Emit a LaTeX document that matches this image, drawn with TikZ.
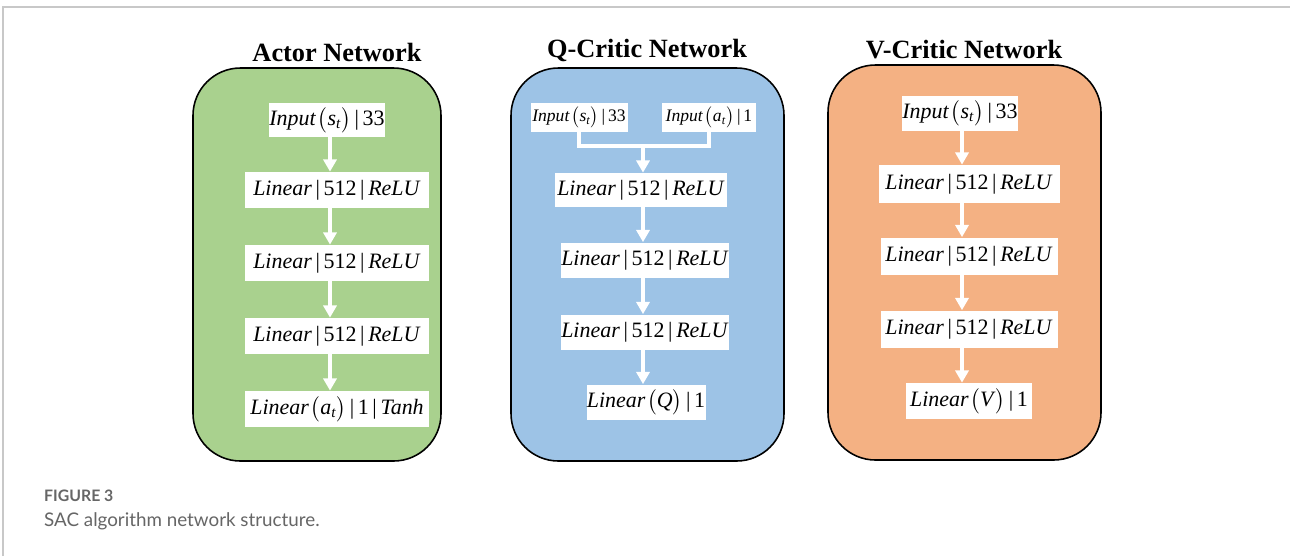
\documentclass[tikz,border=0pt]{standalone}
\usepackage{amsmath}
\usepackage{fontspec}
\setmainfont{Liberation Serif}
\newfontfamily\capfont{Lato}
\usetikzlibrary{arrows.meta,positioning,calc}
\usepackage{xcolor}

\definecolor{actorgreen}{HTML}{A9D18E}
\definecolor{qblue}{HTML}{9DC3E6}
\definecolor{vorange}{HTML}{F4B183}
\definecolor{framegray}{HTML}{C8C8C8}
\definecolor{capgray}{HTML}{666666}

\newcommand{\relulayer}{\textit{Linear}\,|\,512\,|\,\textit{ReLU}}
\newcommand{\paren}[1]{$\kern1pt\bigl(\text{\textit{#1}}\bigr)$}
\newcommand{\sub}[2]{\textit{#1}$_{\text{\textit{#2}}}$}
\newcommand{\stinput}{\textit{Input}\paren{\sub{s}{t}}\,|\,33}
\newcommand{\atinput}{\textit{Input}\paren{\sub{a}{t}}\,|\,1}

\begin{document}
\begin{tikzpicture}[x=0.02cm, y=-0.02cm,
    panel/.style={draw=black, line width=0.9pt, rounded corners=0.95cm},
    title/.style={font=\fontsize{15}{18}\selectfont\bfseries},
    layer/.style={fill=white, inner sep=0pt, minimum height=0.72cm,
        font=\fontsize{12.5}{14}\selectfont},
    small/.style={font=\fontsize{10}{12}\selectfont},
    flow/.style={draw=white, line width=2.3pt, -{Triangle[width=7.5pt,length=7pt]}},
    link/.style={draw=white, line width=2.3pt}]

    % Page
    \useasboundingbox (0,0) rectangle (1290,556);
    \fill[white] (0,0) rectangle (1290,556);
    \draw[framegray, line width=0.9pt] (3,556) -- (3,7) -- (1290,7);

    % Panels
    \draw[panel, fill=actorgreen] (193,68) rectangle (441,461);
    \draw[panel, fill=qblue] (511,68) rectangle (784,461);
    \draw[panel, fill=vorange] (828,65) rectangle (1101,460);

    % Titles
    \node[title] (tact) at (337,52) {Actor Network};
    \node[title] (tq) at (647,50) {Q-Critic Network};
    \node[title] (tv) at (964,50) {V-Critic Network};

    % Actor network
    \node[layer, minimum width=2.26cm, minimum height=0.68cm] (a0) at (327,120) {\stinput};
    \node[layer, minimum width=3.68cm] (a1) at (337,190) {\relulayer};
    \node[layer, minimum width=3.68cm] (a2) at (337,263) {\relulayer};
    \node[layer, minimum width=3.68cm] (a3) at (337,336) {\relulayer};
    \node[layer, minimum width=3.68cm] (a4) at (337,409)
        {\textit{Linear}\paren{\sub{a}{t}}\,|\,1\,|\,\textit{Tanh}};
    \coordinate (ax) at (330,0);
    \draw[flow] (a0.south -| ax) -- (a1.north -| ax);
    \foreach \i/\j in {1/2,2/3,3/4} {
        \draw[flow] (a\i.south -| ax) -- (a\j.north -| ax);
    }

    % Q-critic network
    \node[layer, small, minimum width=1.94cm, minimum height=0.58cm] (qs) at (579,117) {\stinput};
    \node[layer, small, minimum width=1.88cm, minimum height=0.58cm] (qa) at (709,117) {\atinput};
    \node[layer, minimum width=3.46cm, minimum height=0.68cm] (q1) at (641,190) {\relulayer};
    \node[layer, minimum width=3.38cm, minimum height=0.7cm] (q2) at (645,260) {\relulayer};
    \node[layer, minimum width=3.38cm, minimum height=0.7cm] (q3) at (645,332) {\relulayer};
    \node[layer, minimum width=2.38cm, minimum height=0.7cm] (q4) at (646,402)
        {\textit{Linear}\paren{Q}\,|\,1};
    \coordinate (qm) at (643,146);
    \draw[link] (qs.south) |- (qm) -| (qa.south);
    \draw[flow] (qm) -- (q1.north -| qm);
    \foreach \i/\j in {1/2,2/3,3/4} {
        \draw[flow] (q\i.south -| qm) -- (q\j.north -| qm);
    }

    % V-critic network
    \node[layer, minimum width=2.3cm, minimum height=0.7cm] (v0) at (960,113) {\stinput};
    \node[layer, minimum width=3.62cm, minimum height=0.76cm] (v1) at (969,184) {\relulayer};
    \node[layer, minimum width=3.54cm, minimum height=0.74cm] (v2) at (969,256) {\relulayer};
    \node[layer, minimum width=3.54cm, minimum height=0.74cm] (v3) at (969,329) {\relulayer};
    \node[layer, minimum width=2.52cm] (v4) at (969,401)
        {\textit{Linear}\paren{V}\,|\,1};
    \coordinate (vx) at (962,0);
    \draw[flow] (v0.south -| vx) -- (v1.north -| vx);
    \foreach \i/\j in {1/2,2/3,3/4} {
        \draw[flow] (v\i.south -| vx) -- (v\j.north -| vx);
    }

    % Caption
    \node[anchor=west, text=capgray, font=\capfont\bfseries\fontsize{9}{11}\selectfont]
        (fig) at (38,496) {FIGURE 3};
    \node[anchor=west, text=capgray, font=\capfont\fontsize{10.7}{13}\selectfont]
        (cap) at (38,521) {SAC algorithm network structure.};
\end{tikzpicture}
\end{document}
